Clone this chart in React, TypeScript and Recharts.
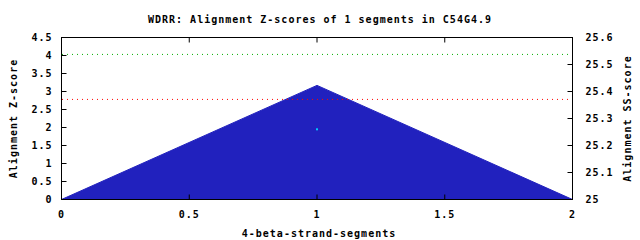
import React from 'react';
import { ComposedChart, Area, Scatter, XAxis, YAxis, ReferenceLine } from 'recharts';

const segments = [0, 1, 2];
const zScores = [0, 3.17, 0];
const ssSegments = [1];
const ssScores = [25.26];
const greenCutoff = 4.03;
const redCutoff = 2.78;
const xTicks = [0, 0.5, 1, 1.5, 2];
const zTicks = [0, 0.5, 1, 1.5, 2, 2.5, 3, 3.5, 4, 4.5];
const ssTicks = [25, 25.1, 25.2, 25.3, 25.4, 25.5, 25.6];

const FONT = '"DejaVu Sans Mono", monospace';

const zData = segments.map((x, i) => ({ x, z: zScores[i] }));
const ssData = ssSegments.map((x, i) => ({ x, ss: ssScores[i] }));

const textStyle = { fill: '#000', fontSize: 10, fontFamily: FONT, fontWeight: 'bold', letterSpacing: 1 };
const frameLine = { stroke: '#000', strokeWidth: 1 };

const App: React.FC = () => {
  return (
    <div style={{ position: 'absolute', left: 0, top: 0, width: 640, height: 240, background: '#fff' }}>
      <div
        style={{
          position: 'absolute',
          left: 0,
          top: 13,
          width: 640,
          textAlign: 'center',
          fontFamily: FONT,
          fontWeight: 'bold',
          fontSize: 10,
          letterSpacing: 1,
          lineHeight: '14px',
          color: '#000',
        }}
      >
        WDRR: Alignment Z-scores of 1 segments in C54G4.9
      </div>
      <ComposedChart width={640} height={240} data={zData} margin={{ top: 36.5, right: 0, bottom: 0, left: 0 }}>
        <XAxis
          dataKey="x"
          type="number"
          domain={[0, 2]}
          ticks={xTicks}
          interval={0}
          height={40.5}
          tickSize={-5}
          tickMargin={16}
          tick={textStyle}
          tickLine={frameLine}
          axisLine={frameLine}
          stroke="#000"
          label={{ value: '4-beta-strand-segments', position: 'center', dx: 2, dy: 13.5, style: textStyle }}
        />
        <XAxis
          xAxisId="top"
          orientation="top"
          type="number"
          dataKey="x"
          domain={[0, 2]}
          ticks={xTicks}
          interval={0}
          height={1}
          tickSize={-5}
          tick={() => <g />}
          tickLine={frameLine}
          axisLine={frameLine}
          stroke="#000"
        />
        <YAxis
          yAxisId="z"
          type="number"
          domain={[0, 4.5]}
          ticks={zTicks}
          interval={0}
          width={61.5}
          tickSize={-5}
          tickMargin={14}
          tick={textStyle}
          tickLine={frameLine}
          axisLine={frameLine}
          stroke="#000"
          label={{ value: 'Alignment Z-score', angle: -90, position: 'center', dx: -17, style: textStyle }}
        />
        <YAxis
          yAxisId="ss"
          orientation="right"
          type="number"
          domain={[25, 25.6]}
          ticks={ssTicks}
          interval={0}
          width={67.5}
          tickSize={-5}
          tickMargin={18}
          tick={textStyle}
          tickLine={frameLine}
          axisLine={frameLine}
          stroke="#000"
          label={{ value: 'Alignment SS-score', angle: -90, position: 'center', dx: 21, style: textStyle }}
        />
        <Area
          yAxisId="z"
          type="linear"
          dataKey="z"
          stroke="#2121be"
          strokeWidth={1}
          fill="#2121be"
          fillOpacity={1}
          dot={false}
          activeDot={false}
          isAnimationActive={false}
        />
        <ReferenceLine yAxisId="z" y={greenCutoff} stroke="#00b000" strokeDasharray="1 4" strokeDashoffset={-0.5} />
        <ReferenceLine yAxisId="z" y={redCutoff} stroke="#ff0000" strokeDasharray="1 4" strokeDashoffset={-0.5} />
        <Scatter
          xAxisId="top"
          yAxisId="ss"
          data={ssData}
          dataKey="ss"
          fill="#00ccff"
          isAnimationActive={false}
          shape={(p: any) => <rect x={p.cx - 1} y={p.cy - 1} width={2} height={2} fill="#00ccff" />}
        />
      </ComposedChart>
      {/* plot frame, matches the chart's margins and axis sizes */}
      <div
        style={{
          position: 'absolute',
          left: 61,
          top: 37,
          width: 512,
          height: 163,
          boxSizing: 'border-box',
          border: '1px solid #000',
          pointerEvents: 'none',
        }}
      />
    </div>
  );
};

export default App;
